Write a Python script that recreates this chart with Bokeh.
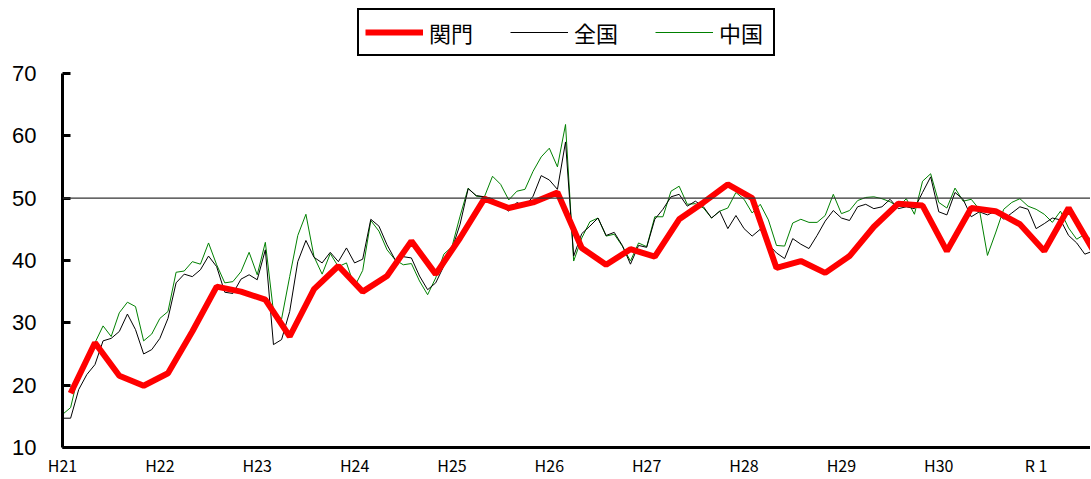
from bokeh.plotting import figure
from bokeh.models import Range1d, FixedTicker, Span, Legend, LegendItem
from bokeh.embed import file_html
from bokeh.resources import INLINE

# monthly index (0 = H21 start)
months = list(range(128))
zenkoku = [14.7, 14.7, 19.3, 21.7, 23.3, 27.1, 27.5, 28.6, 31.4, 28.9, 25.0, 25.7, 27.5, 30.7, 36.4, 37.8, 37.4, 38.5, 40.7, 39.0, 34.9, 34.7,
           37.0, 37.7, 36.9, 41.7, 26.5, 27.3, 31.8, 39.8, 43.2, 40.5, 39.6, 41.3, 39.8, 42.0, 39.6, 40.2, 46.6, 45.5, 42.5, 40.1, 40.6,
           40.4, 37.5, 35.3, 36.4, 39.1, 41.8, 45.8, 51.5, 50.4, 50.2, 49.9, 48.8, 47.9, 49.3, 48.6, 50.3, 53.6, 52.9, 51.4, 59.0,
           40.7, 44.3, 45.5, 46.8, 44.0, 44.5, 42.4, 39.4, 42.4, 42.1, 46.6, 48.2, 50.2, 50.6, 48.7, 49.5, 48.6, 46.8, 47.9, 45.1,
           47.2, 45.1, 43.9, 45.0, 42.6, 41.2, 40.3, 43.5, 42.6, 41.9, 44.0, 46.3, 48.0, 46.8, 46.4, 48.6, 49.0, 48.3, 48.6, 49.8, 48.3,
           48.6, 48.3, 50.9, 53.4, 47.8, 47.3, 50.9, 49.8, 47.0, 47.8, 47.3, 47.9, 46.6, 47.6, 48.6, 48.2, 45.1, 45.9, 46.8, 46.5, 44.0, 42.8, 41.0, 41.5]
chugoku = [15.3, 16.4, 21.9, 24.3, 26.8, 29.5, 27.8, 31.6, 33.3, 32.6, 27.1, 28.2, 30.7, 31.8, 38.1, 38.3, 39.8, 39.4, 42.8, 39.3, 36.4, 36.6,
           38.2, 41.3, 37.7, 42.9, 31.8, 30.6, 37.4, 44.0, 47.4, 40.6, 37.8, 41.1, 39.0, 39.6, 35.8, 38.4, 46.4, 44.7, 41.7, 40.1, 39.3,
           39.5, 36.7, 34.5, 37.2, 41.0, 42.2, 47.1, 51.6, 50.3, 50.2, 53.5, 52.2, 49.7, 51.1, 51.4, 54.3, 56.6, 58.0, 55.0, 61.8,
           39.9, 43.6, 46.2, 46.8, 43.9, 44.2, 42.3, 39.9, 42.8, 42.2, 47.0, 47.0, 51.1, 51.9, 49.0, 49.1, 48.4, 46.8, 47.9, 48.4,
           50.9, 49.8, 47.6, 49.0, 46.5, 42.4, 42.3, 46.0, 46.6, 46.1, 46.1, 47.2, 50.6, 47.5, 48.0, 49.6, 50.1, 50.2, 49.9, 49.4, 48.6,
           49.9, 47.4, 52.7, 53.9, 49.3, 48.4, 51.6, 49.5, 49.8, 48.2, 40.8, 44.4, 48.2, 49.3, 49.9, 48.7, 48.2, 47.4, 46.1, 47.9, 45.2, 43.4, 44.2, 43.1]
# quarterly (middle month of each quarter)
quarters = list(range(1, 128, 3))
kanmon = [18.7, 26.8, 21.5, 19.9, 21.9, 28.6, 35.8, 35.0, 33.7, 27.8,
          35.4, 39.1, 35.0, 37.5, 43.1, 37.8, 43.6, 49.9, 48.4, 49.3,
          50.9, 42.0, 39.3, 41.8, 40.6, 46.6, 49.3, 52.2, 50.0, 38.8,
          39.9, 38.0, 40.7, 45.4, 49.1, 48.8, 41.5, 48.4, 47.9, 45.8,
          41.5, 48.4, 41.7]

year_ticks = [0, 12, 24, 36, 48, 60, 72, 84, 96, 108, 120]
year_labels = ["H21", "H22", "H23", "H24", "H25", "H26", "H27", "H28", "H29", "H30", "R 1"]
y_ticks = [10, 20, 30, 40, 50, 60, 70]

p = figure(width=1090, height=479, output_backend="svg", toolbar_location=None,
           x_range=Range1d(0, 126.7), y_range=Range1d(10, 80.88),
           min_border_left=62, min_border_right=0, min_border_top=5, min_border_bottom=31)
p.outline_line_color = None
p.xgrid.visible = False
p.ygrid.visible = False
p.background_fill_color = "white"

p.add_layout(Span(location=50, dimension="width", line_color="#333333", line_width=1.2))

r_ch = p.line(months, chugoku, line_color="#008000", line_width=1)
r_zk = p.line(months, zenkoku, line_color="black", line_width=1)
r_km = p.line(quarters, kanmon, line_color="#ff0000", line_width=6)

# axes
p.yaxis.ticker = FixedTicker(ticks=y_ticks)
p.yaxis.bounds = (10, 70)
p.yaxis.minor_tick_line_color = None
p.yaxis.major_tick_in = 8
p.yaxis.major_tick_out = 0
p.yaxis.major_tick_line_width = 3
p.yaxis.axis_line_width = 3
p.yaxis.major_label_standoff = 26
p.yaxis.major_label_text_font = "Liberation Sans"
p.yaxis.major_label_text_font_size = "22px"
p.yaxis.major_label_text_color = "black"

p.xaxis.ticker = FixedTicker(ticks=year_ticks)
p.xaxis.major_label_overrides = {t: l for t, l in zip(year_ticks, year_labels)}
p.xaxis.minor_tick_line_color = None
p.xaxis.major_tick_line_color = None
p.xaxis.major_tick_in = 0
p.xaxis.major_tick_out = 0
p.xaxis.axis_line_width = 3
p.xaxis.major_label_standoff = 5
p.xaxis.major_label_text_font = "Noto Sans CJK JP"
p.xaxis.major_label_text_font_size = "16px"
p.xaxis.major_label_text_color = "black"

legend = Legend(items=[LegendItem(label="関門", renderers=[r_km]),
                       LegendItem(label="全国", renderers=[r_zk]),
                       LegendItem(label="中国", renderers=[r_ch])],
                orientation="horizontal", location=(295, 391),
                label_text_font="Noto Sans CJK JP", label_text_font_size="22px",
                label_text_color="black", glyph_width=58, glyph_height=20,
                label_standoff=6, label_width=48, label_height=20, spacing=33,
                padding=6, margin=0,
                border_line_color="black", border_line_width=2.5, border_line_alpha=1,
                background_fill_color="white", background_fill_alpha=1)
p.add_layout(legend, "center")

open("out.html", "w").write(file_html(p, INLINE))
